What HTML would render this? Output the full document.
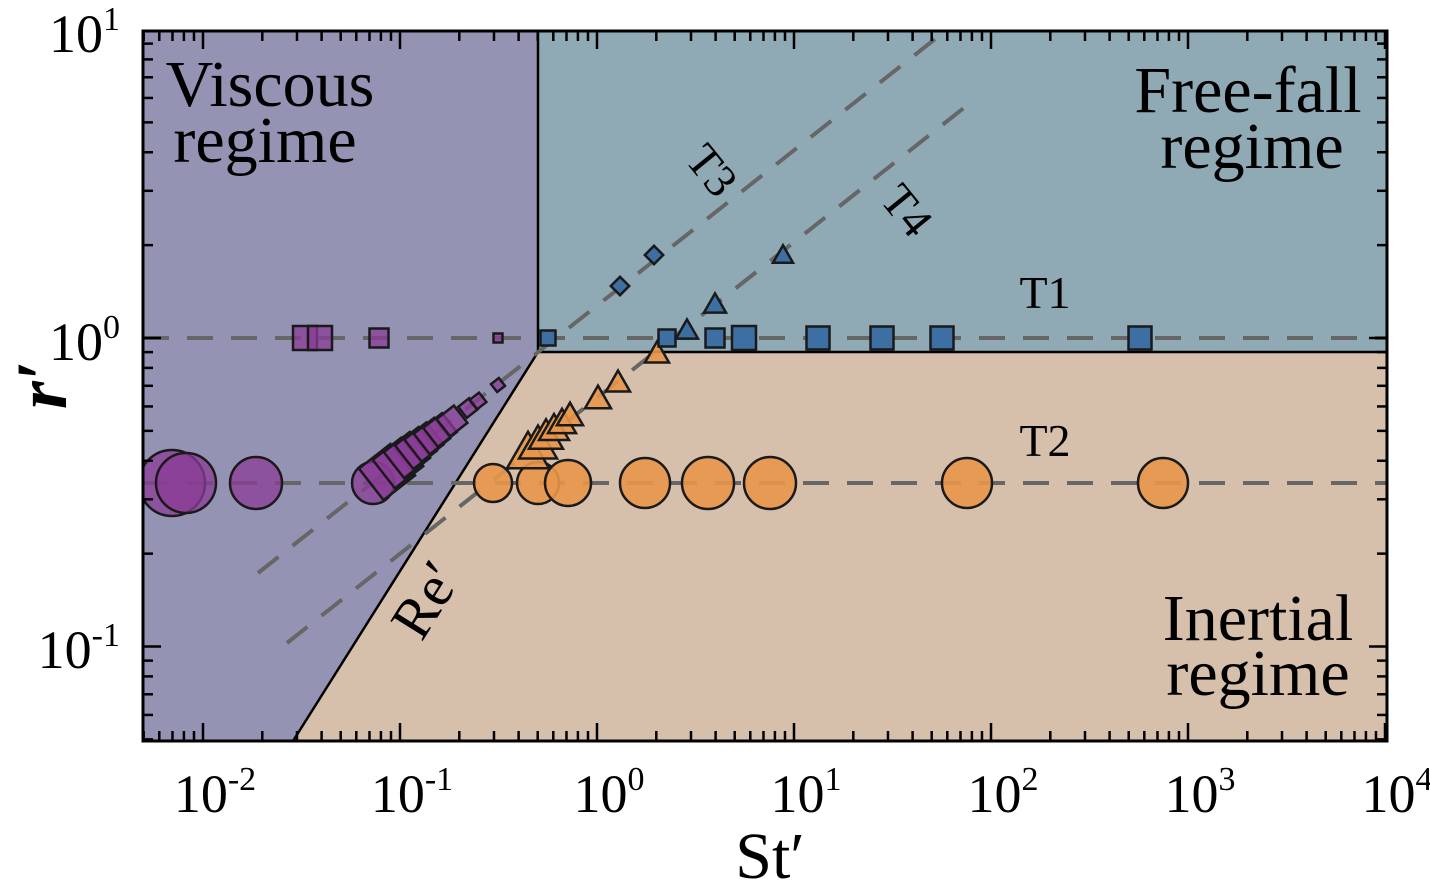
<!DOCTYPE html>
<html><head><meta charset="utf-8"><style>
html,body{margin:0;padding:0;background:#fff;}
svg{display:block;}
text{font-family:"Liberation Serif",serif;fill:#000;}
</style></head><body>
<svg id="s" width="1430" height="886" viewBox="0 0 1430 886" xmlns="http://www.w3.org/2000/svg">
<defs><clipPath id="c"><rect x="143" y="31" width="1244" height="710"/></clipPath></defs>
<polygon points="143,31 538,31 538,352 293,741 143,741" fill="#9593b4"/>
<polygon points="538,31 1387,31 1387,352 538,352" fill="#8faab5"/>
<polygon points="538,352 1387,352 1387,741 293,741" fill="#d6c0ab"/>
<g fill="none" stroke="#000" stroke-width="2.5">
<polyline points="538,31 538,352 1387,352"/>
<line x1="538" y1="352" x2="293" y2="741"/>
</g>
<g id="dash" clip-path="url(#c)" stroke="#666" stroke-width="4" stroke-dasharray="26,18" fill="none">
<line x1="143" y1="338" x2="1387" y2="338"/>
<line x1="143" y1="483" x2="1387" y2="483"/>
<line x1="258" y1="573" x2="944" y2="32"/>
<line x1="287" y1="643" x2="970" y2="103"/>
</g>
<g id="mk" clip-path="url(#c)" stroke="#1a1a1a" stroke-width="2.5"></g>
<g id="tk" stroke="#000" stroke-width="2.5"></g>
<rect x="143" y="31" width="1244" height="710" fill="none" stroke="#000" stroke-width="3"/>
<g font-size="66">
<text x="270" y="106" text-anchor="middle">Viscous</text>
<text x="265" y="162" text-anchor="middle">regime</text>
<text x="1248" y="112" text-anchor="middle">Free-fall</text>
<text x="1252" y="168" text-anchor="middle">regime</text>
<text x="1258" y="640" text-anchor="middle">Inertial</text>
<text x="1258" y="695" text-anchor="middle">regime</text>
</g>
<g font-size="46">
<text x="1045" y="308" text-anchor="middle">T1</text>
<text x="1045" y="456" text-anchor="middle">T2</text>
<text x="0" y="0" text-anchor="middle" transform="translate(700,180) rotate(51)">T3</text>
<text x="0" y="0" text-anchor="middle" transform="translate(895,220) rotate(51)">T4</text>
<text x="0" y="0" font-size="58" text-anchor="middle" transform="translate(442,610) rotate(-58)">Re′</text>
</g>
<text x="770" y="878" font-size="66" text-anchor="middle">St′</text>
<text x="0" y="0" font-size="72" font-style="italic" font-weight="bold" text-anchor="middle" transform="translate(66,385) rotate(-90)">r′</text>
<g id="lb" font-size="54"></g>
</svg>
<script>
var NS="http://www.w3.org/2000/svg";
function X(l){return 597+197*l;}
function Y(l){return 338-308.5*l;}
function el(p,t,a){var e=document.createElementNS(NS,t);for(var k in a)e.setAttribute(k,a[k]);document.getElementById(p).appendChild(e);return e;}
for(var d=-3;d<=4;d++){for(var m=1;m<10;m++){var l=d+Math.log10(m);var x=X(l);if(x<143||x>1388)continue;var L=m==1?18:10;
el('tk','line',{x1:x,y1:741,x2:x,y2:741-L});el('tk','line',{x1:x,y1:31,x2:x,y2:31+L});}}
for(var d=-2;d<=1;d++){for(var m=1;m<10;m++){var l=d+Math.log10(m);var y=Y(l);if(y<30||y>742)continue;var L=m==1?18:10;
el('tk','line',{x1:143,y1:y,x2:143+L,y2:y});el('tk','line',{x1:1387,y1:y,x2:1387-L,y2:y});}}
function lab(x,y,e,anchor){var t=el('lb','text',{x:x,y:y,'text-anchor':anchor});t.textContent='10';var s=document.createElementNS(NS,'tspan');s.setAttribute('dy','-22');s.setAttribute('font-size','34');s.textContent=e;t.appendChild(s);}
var xe=['-2','-1','0','1','2','3','4'];
for(var i=0;i<7;i++)lab(X(i-2)+12,812,xe[i],'middle');
lab(120,52,'1','end');lab(120,360,'0','end');lab(120,668,'-1','end');
var P='rgba(138,60,150,0.75)',B='#3d6fa3',O='rgba(232,150,74,0.9)';
function C(x,y,r,f){el('mk','circle',{cx:x,cy:y,r:r,fill:f});}
function S(x,y,s,f,rot){el('mk','rect',{x:x-s/2,y:y-s/2,width:s,height:s,fill:f,transform:'rotate('+(rot||0)+' '+x+' '+y+')'});}
function T(x,y,s,f){var h=s*0.87;el('mk','polygon',{points:(x-s/2)+','+(y+h/2)+' '+(x+s/2)+','+(y+h/2)+' '+x+','+(y-h/2),fill:f});}
C(172,483,33,P);C(186,483,30,P);C(256,483,26,P);C(373,483,21,P);
var pts=[[387,472,40],[398,463,36],[407,455,33],[416,448,30],[424,442,28],[432,436,26],[440,430,24],[452,421,22],[468,408,14],[478,401,12],[498,385,10]];
pts.forEach(function(p){S(p[0],p[1],p[2],P,-38);});
S(305,338,24,P);S(320,338,24,P);S(379,338,19,P);S(498,338,9,P);
[[493,19],[538,21],[568,23],[645,25],[708,26],[770,26],[967,25],[1163,25]].forEach(function(c){C(c[0],483,c[1],O);});
[[528,450,42],[538,442,38],[546,434,34],[554,427,30],[562,421,28],[570,414,26],[598,397,26],[618,381,24],[657,352,24]].forEach(function(t){T(t[0],t[1],t[2],O);});
S(548,338,15,B);S(667,338,17,B);S(715,338,19,B);S(744,338,24,B);S(818,338,23,B);S(882,338,23,B);S(942,338,23,B);S(1140,338,23,B);
S(620,286,13,B,45);S(654,255,13,B,45);
T(687,329,22,B);T(715,303,22,B);T(783,254,20,B);
</script>
</body></html>
